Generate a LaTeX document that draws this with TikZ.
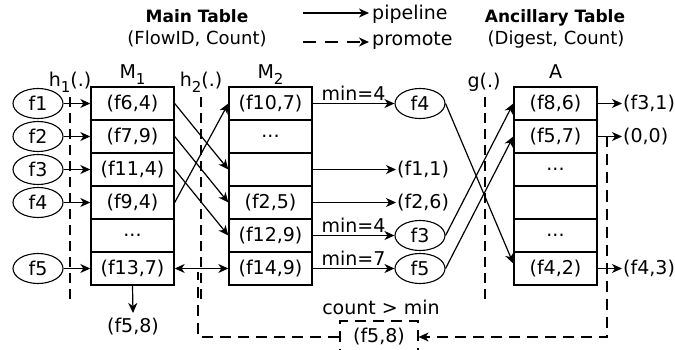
\documentclass[tikz,border=0pt]{standalone}
\usepackage{fontspec}
\setmainfont{DejaVu Sans}
\usetikzlibrary{arrows.meta,shapes.geometric}

% font sizes
\newcommand\fcell{\fontsize{19}{21}\selectfont}
\newcommand\fhead{\fontsize{17}{19}\selectfont\bfseries}
\newcommand\fsubt{\fontsize{18}{20}\selectfont}
\newcommand\lowsub[1]{\raisebox{-0.3em}{\fontsize{15}{15}\selectfont #1}}

\tikzset{
  tip/.tip={Stealth[length=10pt,width=9pt,inset=3pt]},
  cell/.style={draw, line width=1.4pt, minimum width=83pt, minimum height=33pt, inner sep=0pt},
  flow/.style={draw, ellipse, line width=1.1pt, minimum width=50pt, minimum height=30pt, inner sep=0pt},
  pipe/.style={line width=1.2pt, -tip},
  promo/.style={line width=1.2pt, dash pattern=on 11pt off 7pt},
  hashline/.style={line width=1.2pt, dash pattern=on 10pt off 6pt},
  outtxt/.style={anchor=west, inner sep=1pt},
  lbl/.style={anchor=base, inner sep=0pt},
}

\begin{document}
\begin{tikzpicture}[x=1pt, y=-1pt, font=\fcell]
\useasboundingbox (0,0) rectangle (675,350);

% ---- legend and headings
\node[lbl, font=\fhead] (mainttl) at (197,23) {Main Table};
\node[lbl, font=\fsubt] (mainsub) at (197,45) {(FlowID, Count)};
\node[lbl, font=\fhead] (ancttl) at (555,23) {Ancillary Table};
\node[lbl, font=\fsubt] (ancsub) at (556,45) {(Digest, Count)};
\node[anchor=base west, inner sep=0pt] (legpipe) at (372,20) {pipeline};
\node[anchor=base west, inner sep=0pt] (legpromo) at (372,46) {promote};
\coordinate (lp0) at (303,13);
\coordinate (lp1) at (369,13);
\coordinate (lq0) at (303,42);
\coordinate (lq1) at (369,42);
\draw[pipe] (lp0) -- (lp1);
\draw[promo, dash pattern=on 13pt off 9pt, -tip] (lq0) -- (lq1);

% ---- tables
\foreach \i/\t in {1/{(f6,4)},2/{(f7,9)},3/{(f11,4)},4/{(f9,4)},5/{...},6/{(f13,7)}}
  \node[cell] (m1r\i) at (132.5,{70.5+33*\i}) {\t};
\foreach \i/\t in {1/{(f10,7)},2/{...},3/{},4/{(f2,5)},5/{(f12,9)},6/{(f14,9)}}
  \node[cell] (m2r\i) at (270.5,{70.5+33*\i}) {\t};
\foreach \i/\t in {1/{(f8,6)},2/{(f5,7)},3/{...},4/{},5/{...},6/{(f4,2)}}
  \node[cell] (ar\i) at (555.5,{70.5+33*\i}) {\t};

\node[lbl] (m1lbl) at (132.5,79) {M\lowsub{1}};
\node[lbl] (m2lbl) at (270.5,79) {M\lowsub{2}};
\node[lbl] (albl) at (555.5,79) {A};

% ---- hash functions
\node[lbl] (h1lbl) at (70,87) {h\lowsub{1}(.)};
\node[lbl] (h2lbl) at (201,87) {h\lowsub{2}(.)};
\node[lbl] (glbl) at (484,88) {g(.)};
\coordinate (h1t) at (70,97);  \coordinate (h1b) at (70,300);
\coordinate (h2t) at (201,97); \coordinate (h2b) at (201,300);
\coordinate (gt) at (485,97);  \coordinate (gb) at (485,300);
\draw[hashline] (h1t) -- (h1b);
\draw[hashline] (h2t) -- (h2b);
\draw[hashline] (gt) -- (gb);

% ---- incoming flows
\node[flow] (lf1) at (38,103.5) {f1};
\node[flow] (lf2) at (38,136.5) {f2};
\node[flow] (lf3) at (38,169.5) {f3};
\node[flow] (lf4) at (38,202.5) {f4};
\node[flow] (lf5) at (38,268.5) {f5};
\draw[pipe] (lf1) -- (m1r1);
\draw[pipe] (lf2) -- (m1r2);
\draw[pipe] (lf3) -- (m1r3);
\draw[pipe] (lf4) -- (m1r4);
\draw[pipe] (lf5) -- (m1r6);

% ---- M1 -> M2
\draw[pipe] (m1r1.east) -- (m2r3.west);
\draw[pipe] (m1r2.east) -- (m2r4.west);
\draw[pipe] (m1r3.east) -- (m2r5.west);
\draw[pipe] (m1r4.east) -- (m2r1.west);
\draw[line width=1.2pt, tip-tip] (m1r6.east) -- (m2r6.west);

\node[anchor=north, inner sep=0pt] (ev1) at (133,318) {(f5,8)};
\draw[pipe] (m1r6.south) -- ([yshift=5pt]ev1.north);

% ---- M2 -> ancillary
\node[flow] (rf4) at (420,103.5) {f4};
\node[flow] (rf3) at (420,235.5) {f3};
\node[flow] (rf5) at (420,268.5) {f5};
\node[outtxt] (o11) at (396,169.5) {(f1,1)};
\node[outtxt] (o26) at (396,202.5) {(f2,6)};
\draw[pipe] (m2r1.east) -- node[above, inner sep=2pt] {min=4} (rf4.west);
\draw[pipe] (m2r3.east) -- (o11.west);
\draw[pipe] (m2r4.east) -- (o26.west);
\draw[pipe] (m2r5.east) -- node[above, inner sep=2pt] {min=4} (rf3.west);
\draw[pipe] (m2r6.east) -- node[above, inner sep=2pt] {min=7} (rf5.west);

\draw[pipe] (rf4.east) -- ([yshift=5pt]ar6.west);
\draw[pipe] (rf3.east) -- (ar1.west);
\draw[pipe] (rf5.east) -- (ar2.west);

% ---- ancillary outputs
\node[outtxt] (o31) at (622,103.5) {(f3,1)};
\node[outtxt] (o00) at (622,136.5) {(0,0)};
\node[outtxt] (o43) at (622,268.5) {(f4,3)};
\draw[pipe] (ar1.east) -- (o31.west);
\draw[pipe] (ar2.east) -- (o00.west);
\draw[pipe] (ar6.east) -- (o43.west);

% ---- promotion path
\node[lbl] (cond) at (381,314) {count > min};
\node[draw, promo, minimum width=78pt, minimum height=32pt, inner sep=0pt] (gate) at (379,337) {(f5,8)};
\coordinate (pa) at (607,136.5);
\coordinate (pb) at (607,337);
\coordinate (pc) at (198,337);
\coordinate (pd) at (198,272);
\draw[promo, -tip] (pa) -- (pb) -- (gate.east);
\draw[promo] (gate.west) -- (pc) -- (pd);
\end{tikzpicture}
\end{document}
